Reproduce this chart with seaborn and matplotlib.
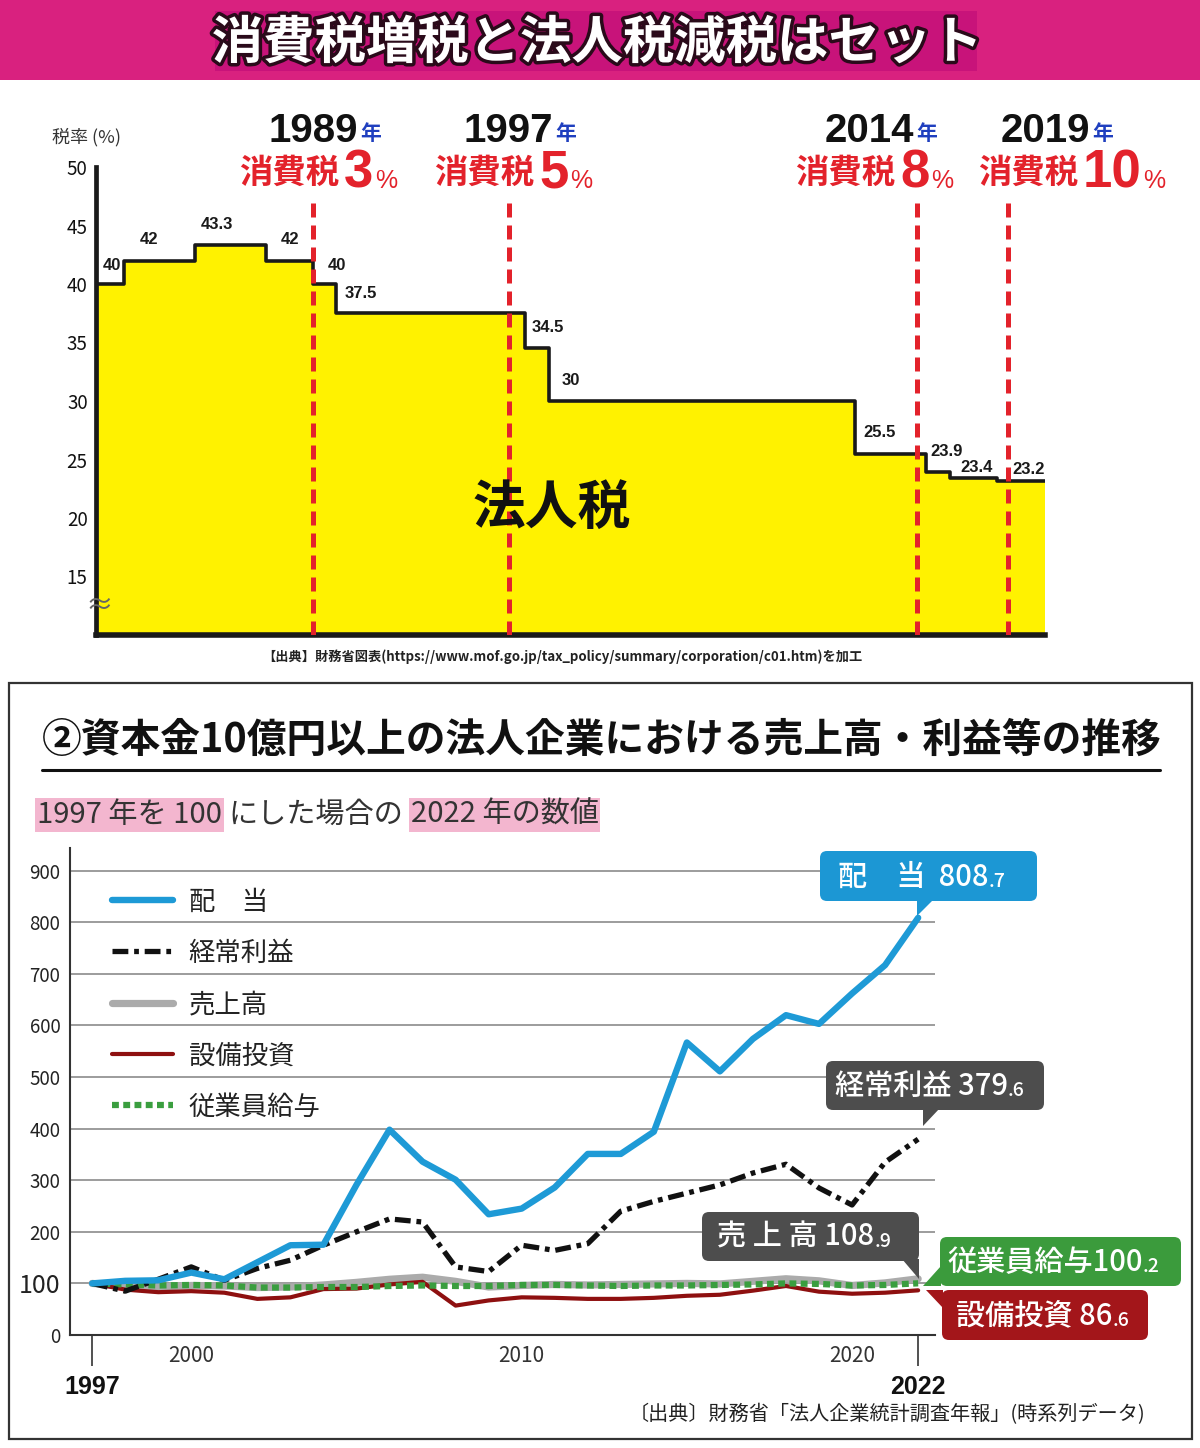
import numpy as np
import pandas as pd
import matplotlib
matplotlib.use('Agg')
import matplotlib.pyplot as plt
import seaborn as sns
from matplotlib.patches import Rectangle, FancyBboxPatch, Polygon
import matplotlib.patheffects as pe

# ---------------- data: top chart (corporate tax rate) ----------------
tax_change_years = [1979.8, 1981, 1984, 1987, 1989, 1990, 1998, 1999, 2012, 2015, 2016, 2018, 2020.05]
tax_rates = [40, 42, 43.3, 42, 40, 37.5, 34.5, 30, 25.5, 23.9, 23.4, 23.2, 23.2]
tax_labels = ['40', '42', '43.3', '42', '40', '37.5', '34.5', '30', '25.5', '23.9', '23.4', '23.2']
tax_tick_years = [1981, 1984, 1987, 1989, 1990, 1998, 1999, 2009, 2012, 2015, 2016, 2018]
tax_yticks = [15, 20, 25, 30, 35, 40, 45, 50]
ctax_years = ['1989', '1997', '2014', '2019']
ctax_rates = ['3', '5', '8', '10']
ctax_line_pos = [1989.0, 1997.3, 2014.6, 2018.5]

# ---------------- data: bottom chart (index, 1997 = 100) ----------------
years = list(range(1997, 2023))
dividend = [100, 105, 106, 121, 108, 141, 174, 175, 291, 398, 336, 301, 234, 245, 286, 351, 351,
            394, 567, 511, 574, 620, 603, 662, 717, 808.7]
profit = [100, 85, 108, 132, 106, 129, 145, 174, 200, 225, 219, 132, 123, 174, 164, 177, 240,
          259, 275, 291, 314, 331, 285, 252, 335, 379.6]
sales = [100, 95, 93, 96, 95, 92, 93, 97, 102, 108, 112, 104, 93, 96, 98, 97, 98,
         99, 100, 99, 104, 109, 105, 96, 101, 108.9]
capex = [100, 88, 83, 85, 82, 70, 73, 89, 90, 98, 103, 57, 67, 73, 72, 70, 70,
         72, 76, 78, 86, 95, 84, 80, 82, 86.6]
salary = [100, 98, 96, 97, 96, 92, 92, 93, 93, 95, 96, 95, 95, 97, 97, 96, 95,
          96, 96, 97, 98, 100, 99, 96, 97, 100.2]
series_names = ['配　当', '経常利益', '売上高', '設備投資', '従業員給与']
year_labels = ['2000', '2010', '2020']
idx_yticks = [0, 100, 200, 300, 400, 500, 600, 700, 800, 900]

# ---------------- style ----------------
sns.set_theme(style='white')
plt.rcParams['font.family'] = ['Noto Sans CJK JP', 'DejaVu Sans']
DIG = ['Liberation Sans', 'DejaVu Sans']
RED = '#E3222B'

fig = plt.figure(figsize=(12, 14.48), dpi=100)
fig.patch.set_facecolor('white')

bg = fig.add_axes([0, 0, 1, 1], zorder=0)
bg.set_xlim(0, 1200); bg.set_ylim(1448, 0); bg.axis('off')
fg = fig.add_axes([0, 0, 1, 1], zorder=10)
fg.set_xlim(0, 1200); fg.set_ylim(1448, 0); fg.axis('off')
fg.patch.set_alpha(0)

# banner
bg.add_patch(Rectangle((0, 0), 1200, 80, color='#D9217F', lw=0))
bg.add_patch(Rectangle((215, 11), 762, 60, color='#C8137A', lw=0))
fg.text(597, 43, '消費税増税と法人税減税はセット', fontsize=37, color='white', weight='bold',
        ha='center', va='center',
        path_effects=[pe.withStroke(linewidth=5, foreground='#2a0a1a')])

# ---------------- top chart ----------------
ax1 = fig.add_axes([96 / 1200, 1 - 635 / 1448, 949 / 1200, 468 / 1448], zorder=2)
ax1.set_facecolor('none')
ax1.fill_between(tax_change_years, tax_rates, 10, step='post', color='#FFF200', lw=0, zorder=1)
sns.lineplot(x=tax_change_years, y=tax_rates, drawstyle='steps-post', color='#1a1a1a',
             lw=2.6, ax=ax1, zorder=2, legend=False)
ax1.vlines(ctax_line_pos, 10, 47.2, colors=RED, lw=3.6, linestyles=[(0, (2.8, 1.6))], zorder=3)
ax1.set_xlim(1979.8, 2020.05)
ax1.set_ylim(10, 50)
ax1.set_xticks(tax_tick_years)
ax1.set_xticklabels([])
ax1.set_yticks(tax_yticks)
ax1.set_yticklabels([str(v) for v in tax_yticks])
ax1.tick_params(axis='x', direction='in', length=7, width=2, color='#1a1a1a')
ax1.tick_params(axis='y', direction='in', length=7, width=2.5, color='#1a1a1a',
                labelsize=13.5, labelcolor='#111', pad=6)
for s in ['top', 'right']:
    ax1.spines[s].set_visible(False)
ax1.spines['left'].set_linewidth(3.4)
ax1.spines['left'].set_color('#1a1a1a')
ax1.spines['bottom'].set_linewidth(4)
ax1.spines['bottom'].set_color('#1a1a1a')
ax1.set_xlabel(''); ax1.set_ylabel('')

# rate labels (offsets in points: dx from segment start, dy from line)
lab_dx = [5, 11, 4, 11, 11, 6, 5, 9, 6, 3, 8, 11]
lab_dy = [13, 15, 15, 15, 13, 14, 15, 15, 15, 15, 8, 8]
for i, t in enumerate(tax_labels):
    ax1.annotate(t, xy=(tax_change_years[i], tax_rates[i]), xytext=(lab_dx[i], lab_dy[i]),
                 textcoords='offset points', ha='left', va='center', fontsize=12,
                 weight='bold', family=DIG, color='#1a1a1a', zorder=5)

fg.text(87, 137, '税率 (%)', ha='center', va='center', fontsize=13, color='#333')
fg.text(552, 508, '法人税', ha='center', va='center', fontsize=38, weight='bold', color='#111')
fg.text(99, 606, '≈', ha='center', va='center', fontsize=20, color='#666')
fg.text(562, 657, '【出典】財務省図表(https://www.mof.go.jp/tax_policy/summary/corporation/c01.htm)を加工',
        ha='center', va='center', fontsize=9.5, weight='bold', color='#222')

# header labels for consumption tax
hdr_year_right = [358, 553, 914, 1090]
hdr_kanji_right = [339, 534, 895, 1078]
for i in range(4):
    fg.text(hdr_year_right[i], 142, ctax_years[i], ha='right', va='baseline', fontsize=29,
            weight='bold', family=DIG, color='#111')
    fg.text(hdr_year_right[i] + 2, 140, '年', ha='left', va='baseline', fontsize=15,
            weight='bold', color='#1F3FBF')
    fg.text(hdr_kanji_right[i], 183, '消費税', ha='right', va='baseline', fontsize=24,
            weight='bold', color=RED)
    n = fg.text(hdr_kanji_right[i] + 5, 188, ctax_rates[i], ha='left', va='baseline',
                fontsize=38, weight='bold', family=DIG, color=RED)
    fg.annotate('%', xy=(1, 0), xycoords=n, xytext=(1, 4.2), textcoords='offset points',
                ha='left', va='bottom', fontsize=18, family=DIG, color=RED)

# ---------------- bottom panel ----------------
bg.add_patch(Rectangle((9, 683), 1183, 756, fill=False, ec='#333', lw=1.6))
fg.text(42, 740, '②資本金10億円以上の法人企業における売上高・利益等の推移', fontsize=28.6,
        weight='bold', ha='left', va='center', color='#111')
bg.plot([42, 1160], [770, 770], color='#111', lw=2.2)

PINK = '#F3B6CF'
t1 = fg.text(37, 815, '1997 年を 100', fontsize=21, color='#333', ha='left', va='center',
             bbox=dict(boxstyle='square,pad=0.06', fc=PINK, ec='none'))
t2 = fg.annotate('にした場合の', xy=(1, 0.5), xycoords=t1, xytext=(5, 0),
                 textcoords='offset points', ha='left', va='center', fontsize=21, color='#333')
t3 = fg.annotate('2022 年の数値', xy=(1, 0.5), xycoords=t2, xytext=(5, 0),
                 textcoords='offset points', ha='left', va='center', fontsize=21, color='#333',
                 bbox=dict(boxstyle='square,pad=0.06', fc=PINK, ec='none'))

ax2 = fig.add_axes([70 / 1200, 1 - 1335 / 1448, 865 / 1200, 487 / 1448], zorder=3)
ax2.set_facecolor('none')
df = pd.DataFrame({'year': years, 'dividend': dividend, 'profit': profit, 'sales': sales,
                   'capex': capex, 'salary': salary})
sns.lineplot(data=df, x='year', y='sales', ax=ax2, color='#ABABAB', lw=5.2, label=series_names[2])
sns.lineplot(data=df, x='year', y='capex', ax=ax2, color='#8E1010', lw=3, label=series_names[3])
sns.lineplot(data=df, x='year', y='salary', ax=ax2, color='#3A9E3F', lw=4.5,
             linestyle=(0, (1.1, 0.7)), label=series_names[4])
sns.lineplot(data=df, x='year', y='profit', ax=ax2, color='#111111', lw=3.8,
             linestyle=(0, (3.0, 1.1, 0.9, 1.1)), label=series_names[1])
sns.lineplot(data=df, x='year', y='dividend', ax=ax2, color='#1E9AD6', lw=4.6, label=series_names[0])

ax2.set_xlim(1996.33, 2022.51)
ax2.set_ylim(0, 944)
ax2.set_xlabel(''); ax2.set_ylabel('')
ax2.yaxis.grid(True, color='#9c9c9c', lw=1.4)
ax2.xaxis.grid(False)
ax2.set_axisbelow(True)
ax2.set_yticks(idx_yticks)
ax2.set_yticklabels([str(v) for v in idx_yticks])
for lab in ax2.get_yticklabels():
    if lab.get_text() == '100':
        lab.set_fontsize(18)
    else:
        lab.set_fontsize(13.5)
ax2.tick_params(axis='y', direction='out', length=5, width=1.2, color='#333', labelcolor='#222', pad=2)
major_years = [y for y in years if y not in (1997, 2022)]
ax2.set_xticks(major_years)
ax2.set_xticklabels([str(y) if str(y) in year_labels else '' for y in major_years])
ax2.set_xticks([1997, 2022], minor=True)
ax2.set_xticklabels(['1997', '2022'], minor=True)
ax2.tick_params(axis='x', which='major', direction='out', length=5.5, width=1.2, color='#333',
                labelsize=15, labelcolor='#333', pad=2)
ax2.tick_params(axis='x', which='minor', direction='out', length=22, width=1.2, color='#333',
                labelsize=18, labelcolor='#111', pad=7, bottom=True)
for lab in ax2.get_xticklabels(minor=True):
    lab.set_fontweight('bold')
    lab.set_family(DIG)
for s in ['top', 'right']:
    ax2.spines[s].set_visible(False)
ax2.spines['left'].set_color('#333'); ax2.spines['left'].set_linewidth(1.5)
ax2.spines['bottom'].set_color('#333'); ax2.spines['bottom'].set_linewidth(1.5)

h, l = ax2.get_legend_handles_labels()
order = [l.index(n) for n in series_names]
leg = ax2.legend([h[i] for i in order], [l[i] for i in order], loc='upper left',
                 bbox_to_anchor=(0.0486, 0.917), frameon=False, fontsize=19,
                 handlelength=2.3, handletextpad=0.6, labelspacing=0.92,
                 borderpad=0, borderaxespad=0)
for t in leg.get_texts():
    t.set_color('#222')

# callouts
def callout(x0, y0, x1, y1, tri, color, main, small, tx, fs=20):
    fg.add_patch(FancyBboxPatch((x0, y0), x1 - x0, y1 - y0,
                                boxstyle='round,pad=0,rounding_size=7', fc=color, ec='none'))
    fg.add_patch(Polygon(tri, closed=True, fc=color, ec='none'))
    m = fg.text(tx, (y0 + y1) / 2 + 1, main, ha='left', va='center', fontsize=fs,
                color='white', weight='medium')
    fg.annotate(small, xy=(1, 0), xycoords=m, xytext=(0, 0.2 * (fs - 14)),
                textcoords='offset points', ha='left', va='bottom', fontsize=14,
                color='white', weight='medium')

callout(820, 851, 1037, 901, [(917, 899), (934, 899), (917, 916)], '#1C97D4',
        '配　当  808', '.7', 838, fs=21)
callout(826, 1061, 1044, 1110, [(923, 1108), (940, 1108), (923, 1126)], '#4D4D4D',
        '経常利益 379', '.6', 835, fs=21)
callout(702, 1212, 919, 1261, [(902, 1259), (919, 1259), (919, 1279)], '#4D4D4D',
        '売 上 高 108', '.9', 717, fs=21)
callout(940, 1237, 1181, 1286, [(941, 1266), (941, 1286), (923, 1286)], '#3B9B3C',
        '従業員給与100', '.2', 947, fs=21)
callout(942, 1290, 1148, 1340, [(943, 1290), (943, 1308), (926, 1290)], '#A3161A',
        '設備投資 86', '.6', 956, fs=21)

fg.text(1145, 1415, '〔出典〕財務省「法人企業統計調査年報」(時系列データ)', ha='right',
        va='center', fontsize=14.5, color='#222')

fig.savefig('out.png', dpi=100)
